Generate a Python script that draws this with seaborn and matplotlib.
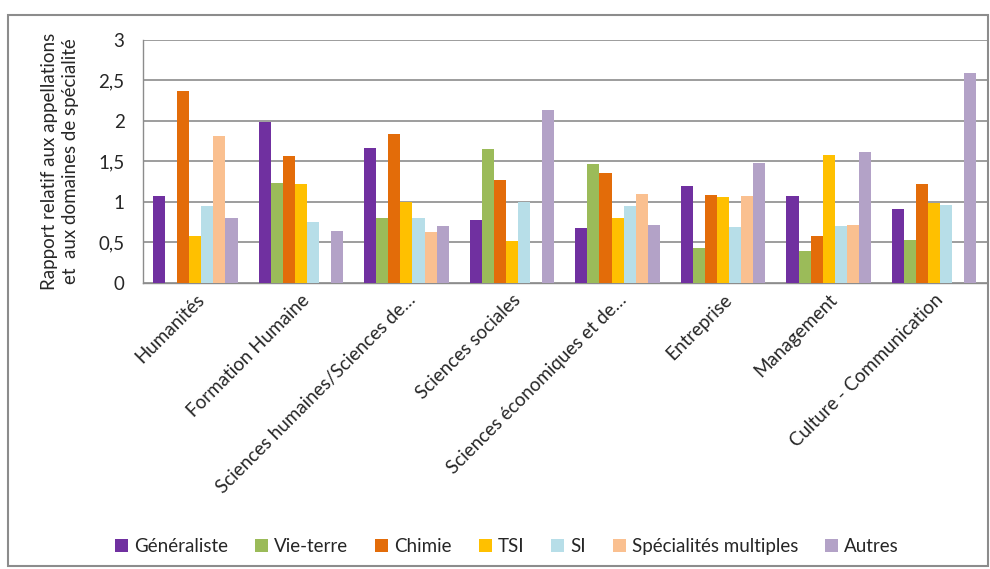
import matplotlib
matplotlib.use("Agg")
import matplotlib.pyplot as plt
from matplotlib.patches import Rectangle
import seaborn as sns
import pandas as pd

# data
categories = ["Humanités", "Formation Humaine", "Sciences humaines/Sciences de…",
              "Sciences sociales", "Sciences économiques et de…", "Entreprise",
              "Management", "Culture - Communication"]
series = ["Généraliste", "Vie-terre", "Chimie", "TSI", "SI", "Spécialités multiples", "Autres"]

generaliste = [1.07, 1.99, 1.67, 0.77, 0.68, 1.19, 1.07, 0.91]
vie_terre = [0.0, 1.23, 0.80, 1.65, 1.47, 0.43, 0.39, 0.53]
chimie = [2.37, 1.57, 1.84, 1.27, 1.36, 1.09, 0.58, 1.22]
tsi = [0.58, 1.22, 1.00, 0.51, 0.80, 1.06, 1.58, 0.98]
si = [0.95, 0.75, 0.80, 1.00, 0.95, 0.69, 0.70, 0.96]
specialites = [1.81, 0.0, 0.63, 0.0, 1.10, 1.07, 0.71, 0.0]
autres = [0.80, 0.64, 0.70, 2.13, 0.71, 1.48, 1.61, 2.59]

colors = ["#7030A0", "#9BBB59", "#E36C09", "#FFC000", "#B7DEE8", "#FAC090", "#B3A2C7"]

values = [generaliste, vie_terre, chimie, tsi, si, specialites, autres]
rows = []
for name, vals in zip(series, values):
    for cat, v in zip(categories, vals):
        rows.append({"categorie": cat, "serie": name, "valeur": v})
df = pd.DataFrame(rows)

sns.set_style("white")
plt.rcParams["font.family"] = ["Lato", "DejaVu Sans"]
fs = 13.5

fig = plt.figure(figsize=(9.9, 5.69), dpi=100)
ax = fig.add_axes([0.144, 0.503, 0.853, 0.427])

sns.barplot(data=df, x="categorie", y="valeur", hue="serie", order=categories,
            hue_order=series, palette=colors, width=0.8, saturation=1,
            edgecolor="none", ax=ax, zorder=3)

ax.set_ylim(0, 3)
ax.set_xlim(-0.5, len(categories) - 0.5)
ax.set_yticks([0, 0.5, 1, 1.5, 2, 2.5, 3])
ax.set_yticklabels(["0", "0,5", "1", "1,5", "2", "2,5", "3"], fontsize=fs)
ax.yaxis.grid(True, color="#8c8c8c", linewidth=1.2, zorder=0)
ax.set_axisbelow(True)

# category labels at the centre, ticks at the group boundaries
ax.set_xticks(range(len(categories)))
ax.set_xticklabels(categories, rotation=45, ha="right", rotation_mode="anchor", fontsize=fs)
ax.tick_params(axis="x", length=0, pad=6)
ax.set_xticks([i - 0.5 for i in range(len(categories) + 1)], minor=True)
ax.tick_params(axis="x", which="minor", length=5, color="#8c8c8c", direction="out")
ax.tick_params(axis="y", length=5, color="#8c8c8c", direction="out", pad=8)

for s in ["top", "right"]:
    ax.spines[s].set_visible(False)
for s in ["left", "bottom"]:
    ax.spines[s].set_color("#8c8c8c")
    ax.spines[s].set_linewidth(1.0)

ax.set_xlabel("")
ax.set_ylabel("Rapport relatif aux appellations\net  aux domaines de spécialité",
              fontsize=fs, labelpad=14, linespacing=1.25)

handles, labels = ax.get_legend_handles_labels()
ax.legend_.remove()
fig.legend(handles, labels, loc="center", bbox_to_anchor=(0.512, 0.04), ncol=7,
           frameon=False, fontsize=fs, handlelength=0.7, handleheight=0.7,
           handletextpad=0.3, columnspacing=1.45)

# outer chart frame
fig.patches.append(Rectangle((8 / 990, 0.005), 0.99, 1 - 15 / 569 - 0.005,
                             transform=fig.transFigure, fill=False,
                             edgecolor="#8c8c8c", linewidth=1.5))

fig.savefig("out.png", dpi=100)
